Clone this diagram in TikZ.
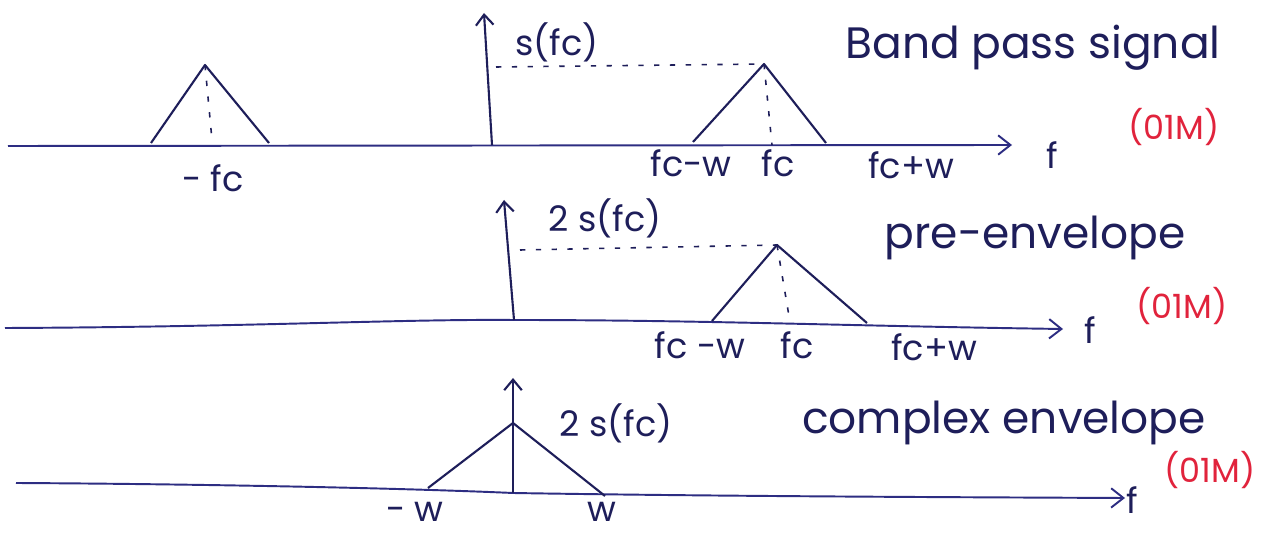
\documentclass[tikz,border=0pt]{standalone}
\usepackage{fontspec}
\setmainfont{Poppins}
\usetikzlibrary{arrows.meta}
\definecolor{ink}{RGB}{30,30,90}
\definecolor{axisc}{RGB}{45,45,130}
\definecolor{mark}{RGB}{225,35,60}
\begin{document}
\begin{tikzpicture}[x=0.02cm,y=-0.02cm,
  axisline/.style={draw=axisc,line width=1.1pt,-{Straight Barb[length=7pt,width=11pt,line width=1.1pt]}},
  impulse/.style={draw=ink,line width=1.2pt,-{Straight Barb[length=6pt,width=10pt,line width=1.2pt]}},
  spec/.style={draw=ink,line width=1.2pt,line join=round},
  guide/.style={draw=ink,line width=0.9pt,dash pattern=on 3pt off 6pt},
  lbl/.style={text=ink,font=\fontsize{20}{24}\selectfont,inner sep=0pt},
  ttl/.style={text=ink,font=\fontsize{25}{30}\selectfont,inner sep=0pt},
  score/.style={text=mark,font=\fontsize{19}{22}\selectfont,inner sep=0pt}]
\path[fill=white] (0,0) rectangle (1272,533);
\useasboundingbox (0,0) rectangle (1272,533);

% ---------- panel 1: band pass signal ----------
\coordinate (a1s) at (8,146);
\coordinate (a1e) at (1012,145);
\coordinate (t1l) at (151,143);
\coordinate (t1a) at (205,65);
\coordinate (t1r) at (269,143);
\coordinate (t1m) at (212,140);
\coordinate (i1b) at (492,145);
\coordinate (i1t) at (484,13);
\coordinate (d1s) at (496,67);
\coordinate (r1l) at (693,142);
\coordinate (r1a) at (764,64);
\coordinate (r1r) at (826,143);
\coordinate (r1m) at (772,145);

\draw[axisline] (a1s) -- (a1e);
\draw[spec] (t1l) -- (t1a) -- (t1r);
\draw[guide] (t1a) -- (t1m);
\draw[impulse] (i1b) -- (i1t);
\draw[guide] (d1s) -- (r1a);
\draw[spec] (r1l) -- (r1a) -- (r1r);
\draw[guide] (r1a) -- (r1m);

\node[lbl] (n1mfc) at (213,178) {- fc};
\node[lbl] (n1s) at (557,42) {s(fc)};
\node[lbl] (n1fcm) at (691,163) {fc-w};
\node[lbl] (n1fc) at (778,163) {fc};
\node[lbl] (n1fcp) at (911,165) {fc+w};
\node[lbl] (n1f) at (1052,155) {f};
\node[ttl] (n1t) at (1033,48) {Band pass signal};
\node[score] (n1m) at (1174,127) {(01M)};

% ---------- panel 2: pre-envelope ----------
\coordinate (a2s) at (5,328);
\coordinate (a2e) at (1063,329);
\coordinate (i2b) at (514,320);
\coordinate (i2t) at (504,200);
\coordinate (d2s) at (520,250);
\coordinate (r2l) at (712,321);
\coordinate (r2a) at (777,245);
\coordinate (r2r) at (867,323);
\coordinate (r2m) at (790,322);

\draw[axisline] (a2s) .. controls (250,327) and (400,319) .. (i2b)
                      .. controls (700,320) and (850,326) .. (a2e);
\draw[impulse] (i2b) -- (i2t);
\draw[guide] (d2s) -- (r2a);
\draw[spec] (r2l) -- (r2a) -- (r2r);
\draw[guide] (r2a) -- (r2m);

\node[lbl] (n2s) at (605,218) {2 s(fc)};
\node[lbl] (n2fcm) at (700,345) {fc -w};
\node[lbl] (n2fc) at (797,345) {fc};
\node[lbl] (n2fcp) at (934,347) {fc+w};
\node[lbl] (n2f) at (1090,330) {f};
\node[ttl] (n2t) at (1035,238) {pre-envelope};
\node[score] (n2m) at (1182,306) {(01M)};

% ---------- panel 3: complex envelope ----------
\coordinate (a3s) at (16,483);
\coordinate (a3e) at (1125,498);
\coordinate (i3b) at (513,493);
\coordinate (i3t) at (513,378);
\coordinate (t3l) at (428,488);
\coordinate (t3a) at (513,423);
\coordinate (t3r) at (605,496);

\draw[axisline] (a3s) .. controls (200,484) and (400,488) .. (i3b)
                      .. controls (700,496) and (900,497) .. (a3e);
\draw[impulse] (i3b) -- (i3t);
\draw[spec] (t3l) -- (t3a) -- (t3r);

\node[lbl] (n3s) at (616,423) {2 s(fc)};
\node[lbl] (n3mw) at (415,512) {- w};
\node[lbl] (n3w) at (602,512) {w};
\node[lbl] (n3f) at (1132,500) {f};
\node[ttl] (n3t) at (1004,423) {complex envelope};
\node[score] (n3m) at (1210,470) {(01M)};
\end{tikzpicture}
\end{document}
